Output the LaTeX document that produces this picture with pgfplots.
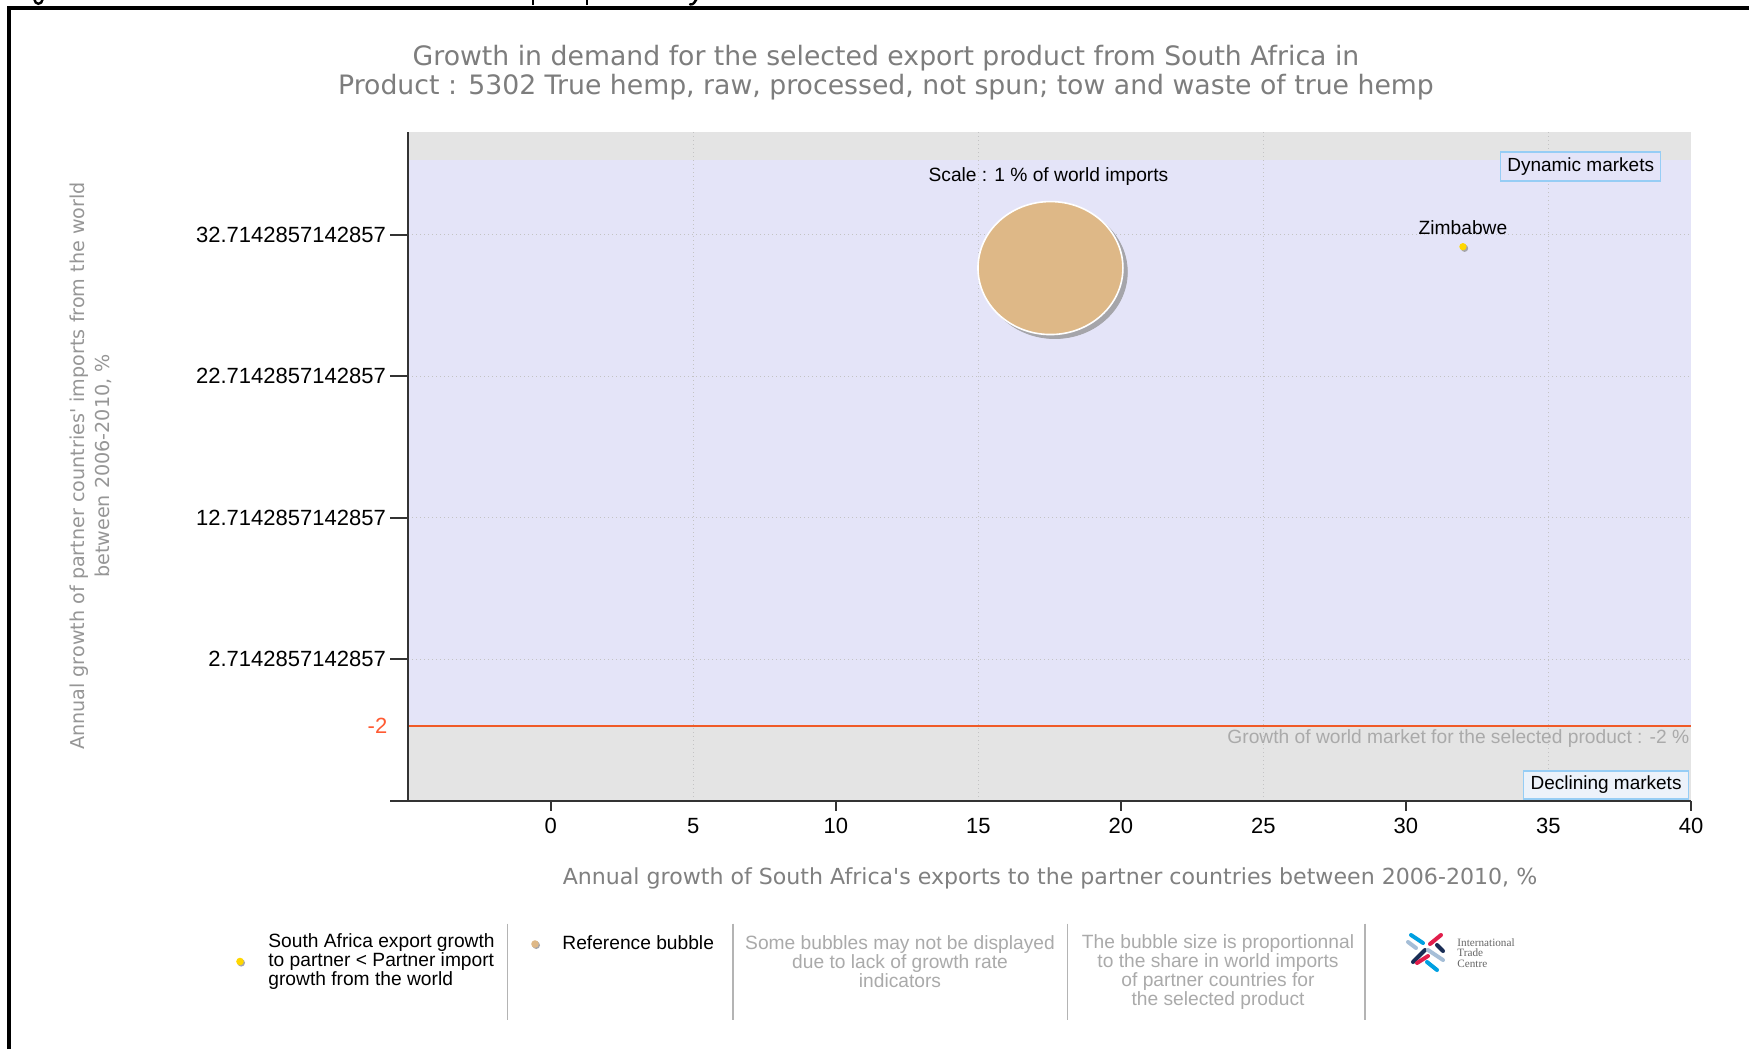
\documentclass[border=0pt]{standalone}
\usepackage{pgfplots}
\pgfplotsset{compat=1.18}
\usepackage{fontspec}
\setmainfont{Liberation Sans}
\newfontfamily\tahoma{DejaVu Sans}
\newfontfamily\itcserif{Liberation Serif}
\definecolor{lavbg}{RGB}{228,228,248}
\definecolor{graybg}{RGB}{228,228,228}
\definecolor{gridc}{RGB}{195,195,195}
\definecolor{orangec}{RGB}{240,90,40}
\definecolor{minusc}{RGB}{255,90,50}
\definecolor{titlegray}{RGB}{125,125,125}
\definecolor{xlabgray}{RGB}{128,128,128}
\definecolor{ylabgray}{RGB}{150,150,150}
\definecolor{notegray}{RGB}{170,170,170}
\definecolor{sepgray}{RGB}{180,180,180}
\definecolor{boxblue}{RGB}{150,205,245}
\definecolor{decfill}{RGB}{236,242,250}
\definecolor{bubblec}{RGB}{222,184,135}
\definecolor{shadowc}{RGB}{165,165,170}
\definecolor{goldc}{RGB}{255,215,0}
\definecolor{itcblue}{RGB}{0,160,225}
\definecolor{itcpink}{RGB}{225,30,75}
\definecolor{itcgray}{RGB}{165,190,215}
\definecolor{itcnavy}{RGB}{25,45,85}
\begin{document}
\begin{tikzpicture}
\fill[white] (0,0) rectangle (874.5pt,-524.5pt);
% fragments of a cut-off caption above the frame (drawn as strokes)
\begin{scope}[line width=1.2pt, line cap=round]
\draw (17.2pt,0.3pt) to[out=-80,in=180] (19.2pt,-1.9pt) to[out=0,in=-100] (21.3pt,0.3pt);
\fill (265.8pt,0.2pt) rectangle (267.1pt,-2.4pt);
\fill (292.8pt,0.2pt) rectangle (294.1pt,-2.4pt);
\draw (348.2pt,0.3pt) -- (347pt,-1.5pt) to[out=-120,in=0] (345pt,-2.2pt);
\end{scope}
% outer frame
\draw[line width=2pt, line join=miter] (4.65pt,-524.5pt) -- (4.65pt,-4pt) -- (874.5pt,-4pt);
% title
\node[font=\tahoma\fontsize{13.35}{14.5}\selectfont, text=titlegray, align=center, inner sep=0pt] at (443pt,-36.25pt)
  {Growth in demand for the selected export product from South Africa in\\Product : 5302 True hemp, raw, processed, not spun; tow and waste of true hemp};
% y label
\node[rotate=90, font=\tahoma\fontsize{9.58}{12.8}\selectfont, text=ylabgray, align=center, inner sep=0pt] at (45.5pt,-233pt)
  {Annual growth of partner countries' imports from the world\\between 2006-2010, \%};
% x label
\node[font=\tahoma\fontsize{11.05}{13}\selectfont, text=xlabgray, inner sep=0pt] at (525pt,-439pt)
  {Annual growth of South Africa's exports to the partner countries between 2006-2010, \%};

\begin{axis}[
  at={(204.1pt,-400.45pt)}, anchor=south west,
  scale only axis, width=641.4pt, height=334.65pt,
  axis on top,
  xmin=-5, xmax=40, ymin=-7.2857142857, ymax=40,
  axis x line*=bottom, axis y line*=left,
  axis line style={line width=1pt, color=black!80},
  tick align=outside,
  major tick length=5pt,
  tick style={line width=1pt, color=black!80},
  /pgf/number format/assume math mode=true,
  ticklabel style={font=\fontsize{11}{13}\selectfont},
  xtick={0,10,20,30,40}, xticklabels={0,10,20,30,40},
  extra x ticks={5,15,25,35}, extra x tick labels={5,15,25,35},
  extra x tick style={xtick style={draw=none}},
  ytick=\empty,
  extra y ticks={-7.2857142857,2.7142857143,12.7142857143,22.7142857143,32.7142857143},
  extra y tick labels={,2.7142857142857,12.7142857142857,22.7142857142857,32.7142857142857},
  extra y tick style={major tick length=9pt},
  yticklabel style={inner xsep=2pt},
  clip=false,
]
% background areas
\addplot[fill=graybg, draw=none] coordinates {(-5,-7.2857142857) (40,-7.2857142857) (40,40) (-5,40)} -- cycle;
\addplot[fill=lavbg, draw=none] coordinates {(-5,-2) (40,-2) (40,38) (-5,38)} -- cycle;
% dotted grid lines
\pgfplotsset{gridline/.style={gridc, line width=0.6pt, dash pattern=on 0.6pt off 1.4pt, forget plot}}
\addplot[gridline] coordinates {(5,-7.2857142857) (5,40)};
\addplot[gridline] coordinates {(15,-7.2857142857) (15,40)};
\addplot[gridline] coordinates {(25,-7.2857142857) (25,40)};
\addplot[gridline] coordinates {(35,-7.2857142857) (35,40)};
\addplot[gridline] coordinates {(-5,2.7142857143) (40,2.7142857143)};
\addplot[gridline] coordinates {(-5,12.7142857143) (40,12.7142857143)};
\addplot[gridline] coordinates {(-5,22.7142857143) (40,22.7142857143)};
\addplot[gridline] coordinates {(-5,32.7142857143) (40,32.7142857143)};
% world market growth line
\addplot[color=orangec, line width=1pt] coordinates {(-5,-2) (40,-2)};
% reference bubble (shadow + bubble)
\addplot[only marks, mark=*, mark size=33.25pt, color=shadowc, mark options={xscale=1.09, fill=shadowc, draw=none, xshift=2pt, yshift=-2pt}] coordinates {(17.53,30.36)};
\addplot[only marks, mark=*, mark size=33.25pt, color=bubblec, mark options={xscale=1.09, fill=bubblec, draw=white, line width=0.8pt}] coordinates {(17.53,30.36)};
% Zimbabwe (shadow + dot)
\addplot[only marks, mark=*, mark size=1.6pt, color=shadowc, mark options={fill=shadowc, draw=none, xshift=0.8pt, yshift=-0.8pt}] coordinates {(32.0,31.87)};
\addplot[only marks, mark=*, mark size=1.6pt, color=goldc, mark options={fill=goldc, draw=none}] coordinates {(32.0,31.87)};
% annotations
\node[font=\fontsize{9.6}{11}\selectfont, inner sep=0pt] at (axis cs:17.46,36.85) {Scale : 1 \% of world imports};
\node[font=\fontsize{9.6}{11}\selectfont, inner sep=0pt] at (axis cs:32.0,33.19) {Zimbabwe};
\node[draw=boxblue, line width=0.75pt, fill=lavbg, minimum width=80pt, minimum height=14.5pt, inner sep=0pt, font=\fontsize{9.5}{11}\selectfont] at (axis cs:36.13,37.55) {Dynamic markets};
\node[draw=boxblue, line width=0.75pt, fill=decfill, minimum width=82.5pt, minimum height=14pt, inner sep=0pt, font=\fontsize{9.5}{11}\selectfont] at (axis cs:37.02,-6.16) {Declining markets};
\node[anchor=east, font=\fontsize{9.6}{11}\selectfont, text=notegray, inner sep=0pt] at (axis cs:39.95,-2.88) {Growth of world market for the selected product : -2 \%};
\node[anchor=east, font=\fontsize{11}{13}\selectfont, text=minusc, inner sep=0pt] at (axis cs:-5.72,-2) {-2};
\end{axis}

% legend area
\fill[shadowc] (120.6pt,-481.4pt) circle (1.9pt);
\fill[goldc] (120pt,-480.75pt) circle (1.9pt);
\node[anchor=west, align=left, font=\fontsize{9.6}{9.5}\selectfont, inner sep=0pt] at (134pt,-481pt)
  {South Africa export growth\\to partner < Partner import\\growth from the world};
\draw[sepgray, line width=0.6pt] (253.75pt,-461.8pt) -- (253.75pt,-509.75pt);
\fill[shadowc] (268.1pt,-472.6pt) circle (1.9pt);
\fill[bubblec] (267.5pt,-472pt) circle (1.9pt);
\node[anchor=west, font=\fontsize{9.6}{9.5}\selectfont, inner sep=0pt] at (281pt,-471.5pt) {Reference bubble};
\draw[sepgray, line width=0.6pt] (366.5pt,-461.8pt) -- (366.5pt,-509.75pt);
\node[align=center, font=\fontsize{9.6}{9.5}\selectfont, text=notegray, inner sep=0pt] at (450pt,-481pt)
  {Some bubbles may not be displayed\\due to lack of growth rate\\indicators};
\draw[sepgray, line width=0.6pt] (533.75pt,-461.8pt) -- (533.75pt,-509.75pt);
\node[align=center, font=\fontsize{9.6}{9.5}\selectfont, text=notegray, inner sep=0pt] at (609pt,-485.8pt)
  {The bubble size is proportionnal\\to the share in world imports\\of partner countries for\\the selected product};
\draw[sepgray, line width=0.6pt] (682.5pt,-461.8pt) -- (682.5pt,-509.75pt);
% ITC logo
\begin{scope}[line width=2pt, line cap=round]
\draw[itcblue] (705.5pt,-467.5pt) -- (711.5pt,-471.5pt);
\draw[itcpink] (715pt,-472pt) -- (720.5pt,-467.5pt);
\draw[itcgray] (704pt,-471pt) -- (708pt,-474pt);
\draw[itcnavy] (706.5pt,-481pt) -- (712.5pt,-475pt);
\draw[itcnavy] (718.5pt,-472.5pt) -- (721.5pt,-475.5pt);
\draw[itcgray] (714pt,-475pt) -- (721.5pt,-480pt);
\draw[itcpink] (708.5pt,-481.5pt) -- (714pt,-478pt);
\draw[itcblue] (713.5pt,-481pt) -- (718.5pt,-485pt);
\end{scope}
\node[anchor=west, align=left, font=\itcserif\fontsize{5.6}{5.2}\selectfont, text=black!60, inner sep=0pt] at (728.5pt,-476.5pt)
  {International\\Trade\\Centre};
\pgfresetboundingbox
\useasboundingbox (0,0) rectangle (874.5pt,-524.5pt);
\end{tikzpicture}
\end{document}
